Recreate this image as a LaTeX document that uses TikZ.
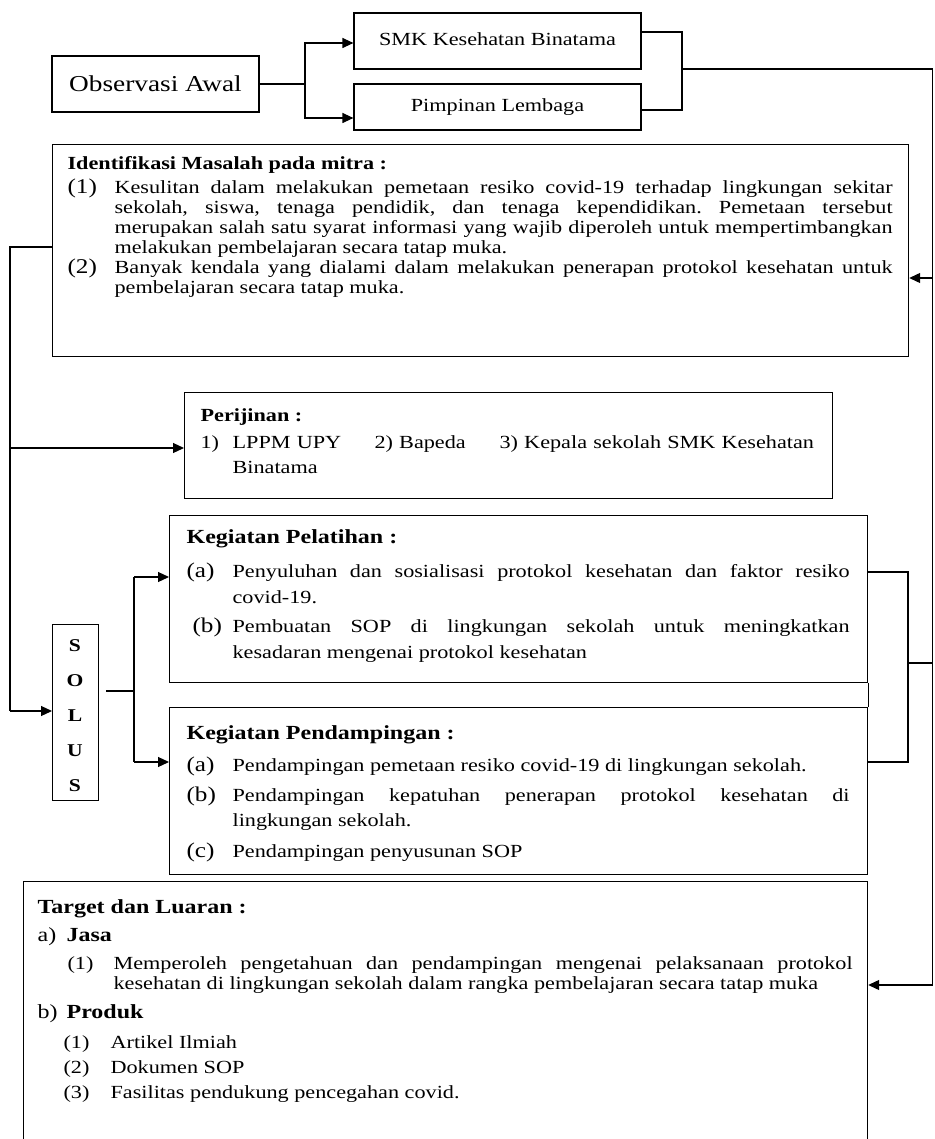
\documentclass[tikz,border=0pt]{standalone}
\usepackage{fontspec}
\setmainfont{Liberation Serif}[FakeStretch=1.2]
\usetikzlibrary{arrows.meta}
\usetikzlibrary{positioning}
\usetikzlibrary{calc}
\frenchspacing
\newcommand{\tstrut}{\rule{0pt}{15pt}}
\newcommand{\lbl}[1]{{\fontsize{21}{20}\selectfont #1}}
\newcommand{\hitem}[3]{\noindent\hangindent=#1\hangafter=1\tstrut\makebox[#1][l]{#2}#3\par}
\tikzset{
  box/.style={draw, inner sep=0pt, font=\fontsize{18.5}{20}\selectfont},
  txt/.style={anchor=north west, inner sep=0pt, align=justify, font=\fontsize{18.5}{20}\selectfont},
  ttl/.style={anchor=north west, inner sep=0pt, font=\fontsize{18.5}{20}\selectfont\bfseries},
  bigttl/.style={anchor=north west, inner sep=0pt, font=\fontsize{20}{22}\selectfont\bfseries},
  arr/.style={-{Triangle[length=11pt,width=10pt]}}
}

\begin{document}
\begin{tikzpicture}[x=1pt, y=-1pt, line width=1.2pt]
\useasboundingbox (0,0) rectangle (934,1139);
% top row
\node[box, minimum width=207pt, minimum height=56pt, font=\fontsize{22.75}{24}\selectfont] (obs) at (155.5,84) {Observasi Awal};
\node[box, minimum width=287pt, minimum height=56pt] (smk) at (497.5,41) {\raisebox{4pt}{SMK Kesehatan Binatama}};
\node[box, minimum width=287pt, minimum height=46pt] (pim) at (497.5,107) {Pimpinan Lembaga};

% boxes
\node[box, anchor=north west, minimum width=856pt, minimum height=212pt] (idm) at (52,144) {};
\node[box, anchor=north west, minimum width=648pt, minimum height=106pt] (per) at (184,392) {};
\node[box, anchor=north west, minimum width=698pt, minimum height=167pt] (pel) at (169,515) {};
\node[box, anchor=north west, minimum width=698pt, minimum height=167pt] (pen) at (169,707) {};
\node[box, anchor=north west, minimum width=46pt, minimum height=176pt] (solus) at (52,624) {};
\node[box, anchor=north west, minimum width=844pt, minimum height=264pt] (tgt) at (23,881) {};

% identifikasi masalah
\node[ttl] (idm-t) at (67,154) {\tstrut Identifikasi Masalah pada mitra :};
\node[txt, text width=825pt] (idm-1) at (67,178) {\hitem{47pt}{\lbl{(1)}}{Kesulitan dalam melakukan pemetaan resiko covid-19 terhadap lingkungan sekitar \linebreak sekolah, siswa, tenaga pendidik, dan tenaga kependidikan. Pemetaan tersebut \linebreak merupakan salah satu syarat informasi yang wajib diperoleh untuk mempertimbangkan \linebreak melakukan pembelajaran secara tatap muka.}};
\node[txt, text width=825pt] (idm-2) at (67,258) {\hitem{47pt}{\lbl{(2)}}{Banyak kendala yang dialami dalam melakukan penerapan protokol kesehatan untuk \linebreak pembelajaran secara tatap muka.}};

% perijinan
\node[ttl] (per-t) at (200,406) {\tstrut Perijinan :};
\node[txt, align=left, text width=620pt, font=\fontsize{18.5}{25}\selectfont] (per-1) at (200,433) {\tstrut\makebox[32pt][l]{1)}\makebox[142pt][l]{LPPM UPY}\makebox[125pt][l]{2) Bapeda}3) Kepala sekolah SMK Kesehatan\\ \hspace*{32pt}Binatama};

% kegiatan pelatihan
\node[bigttl] (pel-t) at (186,528) {\tstrut Kegiatan Pelatihan :};
\node[txt, text width=663pt, font=\fontsize{18.5}{26}\selectfont] (pel-a) at (186,562) {\hitem{46pt}{\lbl{(a)}}{Penyuluhan dan sosialisasi protokol kesehatan dan faktor resiko \linebreak covid-19.}};
\node[txt, text width=663pt, font=\fontsize{18.5}{26}\selectfont] (pel-b) at (186,617) {\hitem{46pt}{\hspace{6pt}\lbl{(b)}}{Pembuatan SOP di lingkungan sekolah untuk meningkatkan \linebreak kesadaran mengenai protokol kesehatan}};

% kegiatan pendampingan
\node[bigttl] (pen-t) at (186,724) {\tstrut Kegiatan Pendampingan :};
\node[txt, text width=663pt] (pen-a) at (186,756) {\hitem{46pt}{\lbl{(a)}}{Pendampingan pemetaan resiko covid-19 di lingkungan sekolah.}};
\node[txt, text width=663pt, font=\fontsize{18.5}{25}\selectfont] (pen-b) at (186,786) {\hitem{46pt}{\lbl{(b)}}{Pendampingan kepatuhan penerapan protokol kesehatan di \linebreak lingkungan sekolah.}};
\node[txt, text width=663pt] (pen-c) at (186,842) {\hitem{46pt}{\lbl{(c)}}{Pendampingan penyusunan SOP}};

% solusi
\node[anchor=north, inner sep=0pt, align=center, font=\fontsize{18}{35}\selectfont\bfseries] (solus-t) at (75,636) {\tstrut S\\O\\L\\U\\S};

% target dan luaran
\node[bigttl] (tgt-t) at (37,898) {\tstrut Target dan Luaran :};
\node[txt, font=\fontsize{20}{22}\selectfont] (tgt-a) at (37,926) {\tstrut\makebox[29pt][l]{a)}\textbf{Jasa}};
\node[txt, text width=785pt] (tgt-a1) at (67,954) {\hitem{46pt}{(1)}{Memperoleh pengetahuan dan pendampingan mengenai pelaksanaan protokol \linebreak kesehatan di lingkungan sekolah dalam rangka pembelajaran secara tatap muka}};
\node[txt, font=\fontsize{20}{22}\selectfont] (tgt-b) at (37,1003) {\tstrut\makebox[29pt][l]{b)}\textbf{Produk}};
\node[txt, align=left, font=\fontsize{18.5}{25}\selectfont] (tgt-b1) at (63,1033) {\tstrut\makebox[47pt][l]{(1)}Artikel Ilmiah\\ \makebox[47pt][l]{(2)}Dokumen SOP\\ \makebox[47pt][l]{(3)}Fasilitas pendukung pencegahan covid.};

% connectors top
\coordinate (j1) at (305,84);
\coordinate (j2) at (682,69);
\draw (obs.east) -- (j1);
\draw[arr] (j1) |- ([yshift=-2pt]smk.west);
\draw[arr] (j1) |- ([yshift=-11pt]pim.west);
\draw ([yshift=9pt]smk.east) -| (j2) |- ([yshift=-3pt]pim.east);

% right side line
\coordinate (r1) at (932.5,69);
\coordinate (r2) at (932.5,278);
\coordinate (r3) at (932.5,663);
\coordinate (r4) at (932.5,985);
\draw (j2) -- (r1) -- (r4);
\draw[arr] (r2) -- (idm.east |- r2);
\draw[arr] (r4) -- (tgt.east |- r4);

% left side line
\coordinate (l1) at (10,247);
\coordinate (l2) at (10,448);
\coordinate (l3) at (10,711);
\draw (idm.west |- l1) -- (l1) -- (l3);
\draw[arr] (l2) -- (per.west |- l2);
\draw[arr] (l3) -- (solus.west |- l3);

% solusi branches
\coordinate (s1) at (106,691);
\coordinate (s2) at (134,691);
\coordinate (s3) at (134,577);
\coordinate (s4) at (134,762);
\draw (s1) -- (s2);
\draw (s3) -- (s4);
\draw[arr] (s3) -- (pel.west |- s3);
\draw[arr] (s4) -- (pen.west |- s4);

% kegiatan bracket
\coordinate (k1) at (908,572);
\coordinate (k2) at (908,762);
\coordinate (k3) at (908,663);
\draw (pel.east |- k1) -- (k1) -- (k2) -- (pen.east |- k2);
\draw (k3) -- (r3);
\draw (pel.south east) -- (pen.north east);
\end{tikzpicture}
\end{document}
